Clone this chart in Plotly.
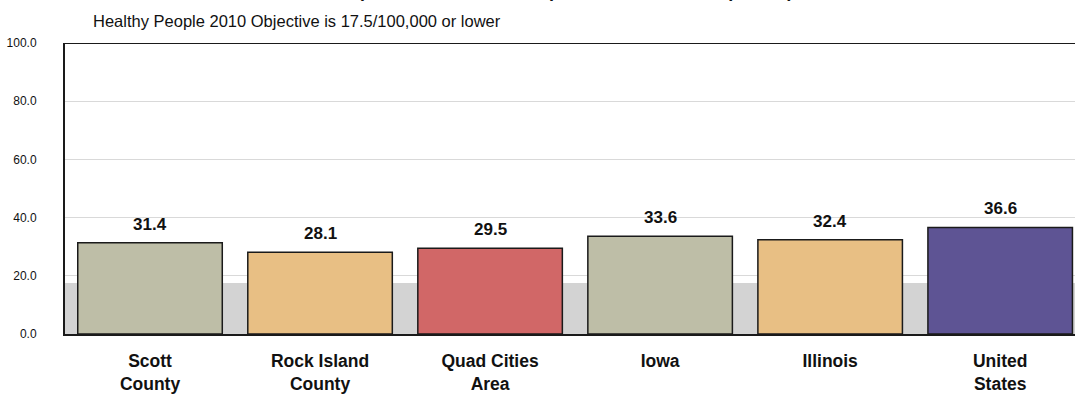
import plotly.graph_objects as go

# Unintentional injury death rates by area
areas = ["Scott<br>County", "Rock Island<br>County", "Quad Cities<br>Area", "Iowa", "Illinois", "United<br>States"]
rates = [31.4, 28.1, 29.5, 33.6, 32.4, 36.6]
bar_colors = ["#BEBEA7", "#E8BF84", "#D16767", "#BEBEA7", "#E8BF84", "#5E5494"]
objective = 17.5
y_ticks = [0, 20, 40, 60, 80, 100]
y_tick_labels = [f"{v:.1f}" for v in y_ticks]

FONT = "Liberation Sans, Arial, sans-serif"

fig = go.Figure()

# Healthy People 2010 objective band (0 to target rate)
fig.add_shape(type="rect", xref="paper", yref="y", x0=0, x1=1, y0=0, y1=objective,
              fillcolor="#D3D3D3", line_width=0, layer="below")

fig.add_trace(go.Bar(
    x=list(range(len(areas))), y=rates, width=0.85,
    marker=dict(color=bar_colors, line=dict(color="#1A1A1A", width=1.5)),
    hoverinfo="skip", showlegend=False,
))

# value labels above each bar
for i, v in enumerate(rates):
    fig.add_annotation(x=i, y=v, xref="x", yref="y", text=f"<b>{v:.1f}</b>",
                       showarrow=False, yanchor="bottom", yshift=7,
                       font=dict(family=FONT, size=17, color="#111111"))

# chart title (second line sits at the very top edge)
fig.add_annotation(xref="paper", yref="paper", x=0.505, y=1, xanchor="center", yanchor="bottom",
                   yshift=40, showarrow=False,
                   text="<b>Unintentional Injury Death Rate<br>(Unintentional Deaths per 100,000, 2005-07 pooled)</b>",
                   font=dict(family=FONT, size=18, color="#111111"))

fig.add_annotation(xref="paper", yref="paper", x=0.0257, y=1, xanchor="left", yanchor="bottom",
                   yshift=11, showarrow=False,
                   text="Healthy People 2010 Objective is 17.5/100,000 or lower",
                   font=dict(family=FONT, size=16.5, color="#111111"))

fig.update_layout(
    width=1075, height=396,
    margin=dict(l=65, r=0, t=43, b=62),
    paper_bgcolor="white", plot_bgcolor="white",
    bargap=0.15,
    font=dict(family=FONT, color="#111111"),
)
fig.update_xaxes(
    range=[-0.5, 5.44], tickvals=list(range(len(areas))), ticktext=[f"<b>{a}</b>" for a in areas],
    tickfont=dict(family=FONT, size=17.5, color="#111111"),
    showline=True, linecolor="#1A1A1A", linewidth=2, showgrid=False, ticks="",
    ticklabelstandoff=10, zeroline=False,
)
fig.update_yaxes(
    range=[0, 100], tickvals=y_ticks, ticktext=y_tick_labels,
    tickfont=dict(family=FONT, size=12, color="#111111"),
    showline=True, linecolor="#1A1A1A", linewidth=2, mirror=False,
    showgrid=True, gridcolor="#D9D9D9", gridwidth=1, zeroline=False, ticks="",
    ticklabelstandoff=24,
)
# top border of the plot area
fig.add_shape(type="line", xref="paper", yref="y", x0=0, x1=1, y0=100, y1=100,
              line=dict(color="#1A1A1A", width=2))

fig.write_html("out.html")
